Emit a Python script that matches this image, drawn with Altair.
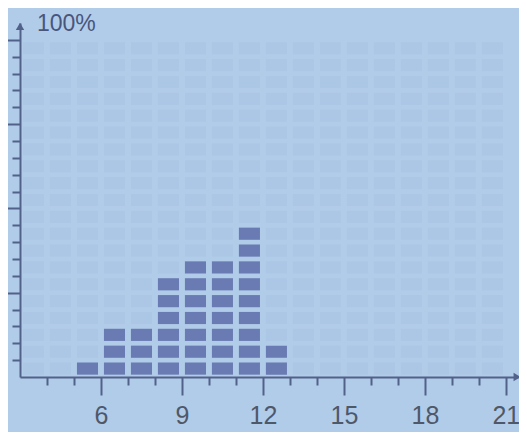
import altair as alt
import pandas as pd

# ---- data ----
bin_starts = [5, 6, 7, 8, 9, 10, 11, 12]          # each column spans [start, start+1]
block_counts = [1, 3, 3, 6, 7, 7, 9, 2]            # lit blocks per column
block_pct = 5                                      # each block = 5 %
grid_cols = list(range(3, 21))                     # unlit LCD cells, columns
grid_rows = list(range(0, 20))                     # unlit LCD cells, rows (20 x 5 % = 100 %)
x_tick_values = list(range(4, 22))
x_label_values = [6, 9, 12, 15, 18, 21]
y_tick_values = list(range(5, 101, 5))
y_top_label = "100%"

BG = "#b1cce9"
CELL = "#acc7e5"
LIT = "#6a7bb3"
AXIS = "#52618a"
LABEL = "#4f5869"

lit_df = pd.DataFrame(
    [{"bin": s, "row": k} for s, c in zip(bin_starts, block_counts) for k in range(c)]
)
grid_df = pd.DataFrame([{"bin": c, "row": r} for c in grid_cols for r in grid_rows])

xscale = alt.Scale(domain=[3, 21.45], nice=False, zero=False)
yscale = alt.Scale(domain=[0, 105], nice=False, zero=False)

label_test = " || ".join(f"datum.value === {v}" for v in x_label_values)

x_axis = alt.Axis(
    values=x_tick_values,
    tickSize={"condition": {"test": label_test, "value": 18}, "value": 8},
    tickWidth=2,
    tickColor=AXIS,
    domainColor=AXIS,
    domainWidth=2,
    labelExpr=f"({label_test}) ? datum.label : ''",
    labelFont="Liberation Sans",
    labelFontSize=25,
    labelColor=LABEL,
    labelPadding=8,
    labelFlush=False,
    labelOverlap=False,
    grid=False,
    title=None,
)
y_axis = alt.Axis(
    values=y_tick_values,
    tickSize={"condition": {"test": "datum.value % 25 === 0", "value": 13}, "value": 8},
    tickWidth=2,
    tickColor=AXIS,
    domainColor=AXIS,
    domainWidth=2,
    labels=False,
    grid=False,
    title=None,
)

calc = dict(
    x0=f"datum.bin + 0.11",
    x1=f"datum.bin + 0.89",
    y0=f"datum.row * {block_pct} + 0.7",
    y1=f"datum.row * {block_pct} + 4.3",
)

cells = (
    alt.Chart(grid_df)
    .transform_calculate(**calc)
    .mark_rect(color=CELL)
    .encode(
        x=alt.X("x0:Q", scale=xscale, axis=x_axis),
        x2="x1:Q",
        y=alt.Y("y0:Q", scale=yscale, axis=y_axis),
        y2="y1:Q",
    )
)

blocks = (
    alt.Chart(lit_df)
    .transform_calculate(**calc)
    .mark_rect(color=LIT)
    .encode(
        x=alt.X("x0:Q", scale=xscale, axis=x_axis),
        x2="x1:Q",
        y=alt.Y("y0:Q", scale=yscale, axis=y_axis),
        y2="y1:Q",
    )
)

label_df = pd.DataFrame({"x": [3], "y": [100], "t": [y_top_label]})
top_label = (
    alt.Chart(label_df)
    .mark_text(
        align="left", baseline="alphabetic", dx=17, dy=-9,
        font="Liberation Sans", fontSize=23, color="#48567c",
    )
    .encode(
        x=alt.X("x:Q", scale=xscale, axis=x_axis),
        y=alt.Y("y:Q", scale=yscale, axis=y_axis),
        text="t:N",
    )
)

arrow_df = pd.DataFrame({"x": [3, 21.42], "y": [104, 0], "shape": ["triangle-up", "triangle-right"]})
arrows = (
    alt.Chart(arrow_df)
    .mark_point(filled=True, size=70, color=AXIS, opacity=1, clip=False)
    .encode(
        x=alt.X("x:Q", scale=xscale, axis=x_axis),
        y=alt.Y("y:Q", scale=yscale, axis=y_axis),
        shape=alt.Shape("shape:N", scale=None, legend=None),
    )
)

chart = (
    alt.layer(cells, blocks, top_label, arrows)
    .properties(
        width=498,
        height=354,
        autosize=alt.AutoSizeParams(type="none"),
        padding={"left": 12, "top": 15, "right": 1, "bottom": 55},
        background=BG,
    )
    .configure_view(stroke=None)
)

chart.save("out.html", embed_options={"renderer": "svg", "actions": False})
